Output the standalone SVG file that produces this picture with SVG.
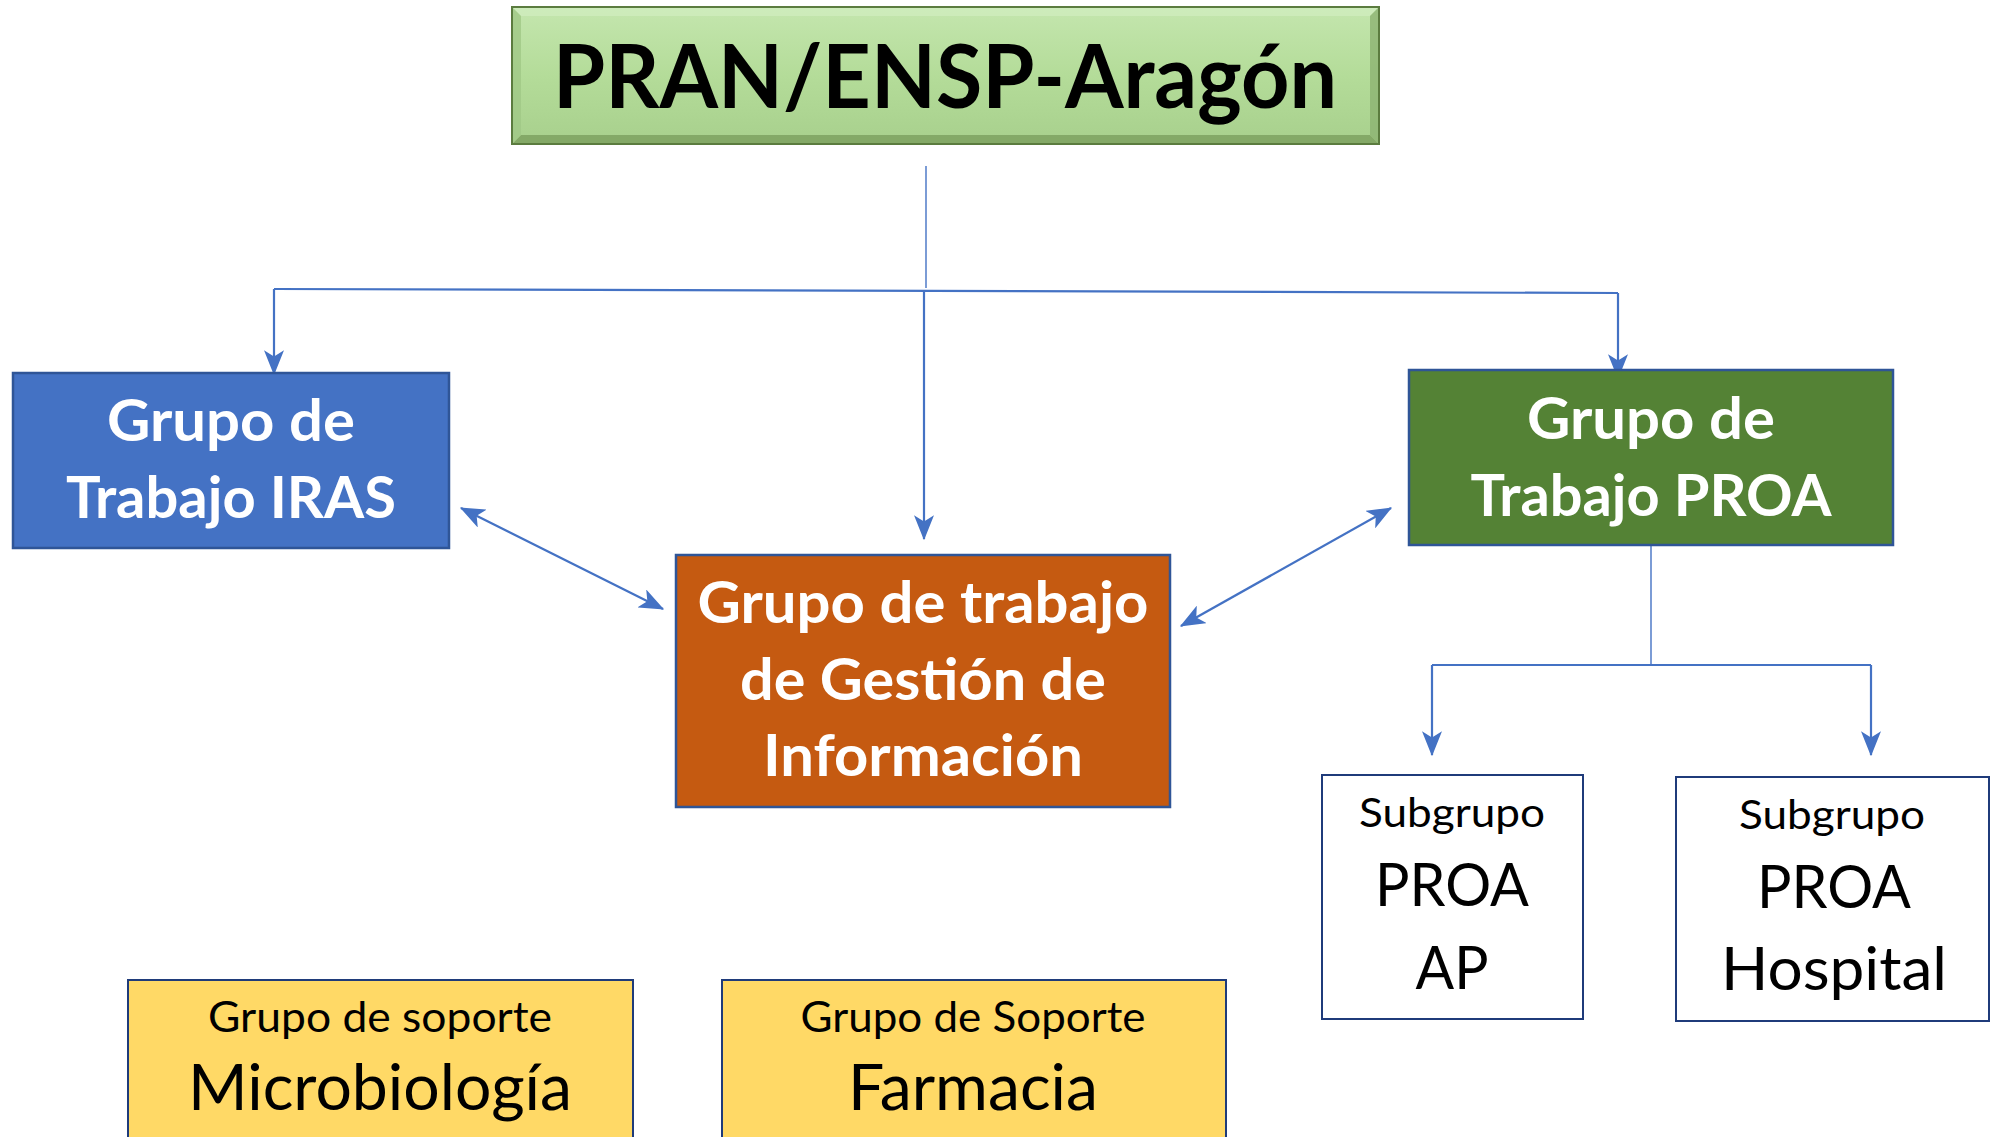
<svg xmlns="http://www.w3.org/2000/svg" width="1998" height="1137" viewBox="0 0 1998 1137">
<defs>
<style>
.w{fill:#fff;font-family:Lato,"Open Sans",sans-serif;font-weight:bold;text-anchor:middle}
.k{fill:#000;font-family:Lato,"Open Sans",sans-serif;text-anchor:middle}
.c{fill:none;stroke:#4472c4;stroke-width:2.2}
.t{fill:none;stroke:#4472c4;stroke-width:1.4}
</style>
<marker id="ah" markerUnits="userSpaceOnUse" viewBox="0 0 20 16" refX="19" refY="8" markerWidth="25" markerHeight="20" orient="auto-start-reverse">
<path d="M0,0 L20,8 L0,16 L5,8 z" fill="#4472c4"/>
</marker>
<linearGradient id="gv" x1="0" y1="0" x2="0" y2="1">
<stop offset="0" stop-color="#c4e6ae"/>
<stop offset="0.5" stop-color="#b4dc99"/>
<stop offset="1" stop-color="#a8d08d"/>
</linearGradient>
</defs>
<rect width="1998" height="1137" fill="#fff"/>
<g id="connectors">
<line class="t" x1="926" y1="166" x2="926" y2="288"/>
<line class="c" x1="274" y1="289" x2="1618" y2="293"/>
<line class="c" x1="274" y1="289" x2="274" y2="374" marker-end="url(#ah)"/>
<line class="c" x1="924" y1="292" x2="924" y2="539" marker-end="url(#ah)"/>
<line class="c" x1="1618" y1="293" x2="1618" y2="378" marker-end="url(#ah)"/>
<line class="c" x1="461" y1="508" x2="663" y2="609" marker-start="url(#ah)" marker-end="url(#ah)"/>
<line class="c" x1="1181" y1="626" x2="1391" y2="508" marker-start="url(#ah)" marker-end="url(#ah)"/>
<line class="t" x1="1651" y1="545" x2="1651" y2="665"/>
<line class="c" x1="1432" y1="665" x2="1871" y2="665"/>
<line class="c" x1="1432" y1="665" x2="1432" y2="755" marker-end="url(#ah)"/>
<line class="c" x1="1871" y1="665" x2="1871" y2="755" marker-end="url(#ah)"/>
</g>
<g id="title">
<rect x="512" y="7" width="867" height="137" fill="url(#gv)" stroke="#5b7c3f" stroke-width="2"/>
<polygon points="513,8 1378,8 1370,16 521,16" fill="#d2eec0" opacity="0.7"/>
<polygon points="513,143 1378,143 1370,135 521,135" fill="#7a9f5e" opacity="0.8"/>
<polygon points="513,8 521,16 521,135 513,143" fill="#a0c886" opacity="0.8"/>
<polygon points="1378,8 1370,16 1370,135 1378,143" fill="#8cb372" opacity="0.8"/>
<text class="w" x="945" y="108" font-size="88" style="fill:#000" textLength="784" lengthAdjust="spacingAndGlyphs">PRAN/ENSP-Aragón</text>
</g>
<g id="iras">
<rect x="13" y="373" width="436" height="175" fill="#4472c4" stroke="#2f5597" stroke-width="2.5"/>
<text class="w" x="231" y="441" font-size="58" textLength="248" lengthAdjust="spacingAndGlyphs">Grupo de</text>
<text class="w" x="231" y="518" font-size="58" textLength="330" lengthAdjust="spacingAndGlyphs">Trabajo IRAS</text>
</g>
<g id="proa">
<rect x="1409" y="370" width="484" height="175" fill="#548235" stroke="#2f5597" stroke-width="2.5"/>
<text class="w" x="1651" y="439" font-size="58" textLength="248" lengthAdjust="spacingAndGlyphs">Grupo de</text>
<text class="w" x="1651" y="516" font-size="58" textLength="361" lengthAdjust="spacingAndGlyphs">Trabajo PROA</text>
</g>
<g id="gestion">
<rect x="676" y="555" width="494" height="252" fill="#c55a11" stroke="#2f5597" stroke-width="2.5"/>
<text class="w" x="923" y="623" font-size="58" textLength="451" lengthAdjust="spacingAndGlyphs">Grupo de trabajo</text>
<text class="w" x="923" y="700" font-size="58" textLength="366" lengthAdjust="spacingAndGlyphs">de Gestión de</text>
<text class="w" x="923" y="776" font-size="58" textLength="320" lengthAdjust="spacingAndGlyphs">Información</text>
</g>
<g id="sub-ap">
<rect x="1322" y="775" width="261" height="244" fill="#fff" stroke="#1f3b7a" stroke-width="2"/>
<text class="k" x="1452" y="827" font-size="40" textLength="186" lengthAdjust="spacingAndGlyphs">Subgrupo</text>
<text class="k" x="1452" y="906" font-size="60" textLength="154" lengthAdjust="spacingAndGlyphs">PROA</text>
<text class="k" x="1452" y="989" font-size="60" textLength="73" lengthAdjust="spacingAndGlyphs">AP</text>
</g>
<g id="sub-hospital">
<rect x="1676" y="777" width="313" height="244" fill="#fff" stroke="#1f3b7a" stroke-width="2"/>
<text class="k" x="1832" y="829" font-size="40" textLength="186" lengthAdjust="spacingAndGlyphs">Subgrupo</text>
<text class="k" x="1834" y="908" font-size="60" textLength="154" lengthAdjust="spacingAndGlyphs">PROA</text>
<text class="k" x="1834" y="990" font-size="60" textLength="226" lengthAdjust="spacingAndGlyphs">Hospital</text>
</g>
<g id="microbiologia">
<rect x="128" y="980" width="505" height="170" fill="#ffd966" stroke="#1f3b7a" stroke-width="2"/>
<text class="k" x="380" y="1032" font-size="42" textLength="344" lengthAdjust="spacingAndGlyphs">Grupo de soporte</text>
<text class="k" x="380" y="1110" font-size="64" textLength="384" lengthAdjust="spacingAndGlyphs">Microbiología</text>
</g>
<g id="farmacia">
<rect x="722" y="980" width="504" height="170" fill="#ffd966" stroke="#1f3b7a" stroke-width="2"/>
<text class="k" x="973" y="1032" font-size="42" textLength="345" lengthAdjust="spacingAndGlyphs">Grupo de Soporte</text>
<text class="k" x="973" y="1110" font-size="64" textLength="250" lengthAdjust="spacingAndGlyphs">Farmacia</text>
</g>
</svg>
